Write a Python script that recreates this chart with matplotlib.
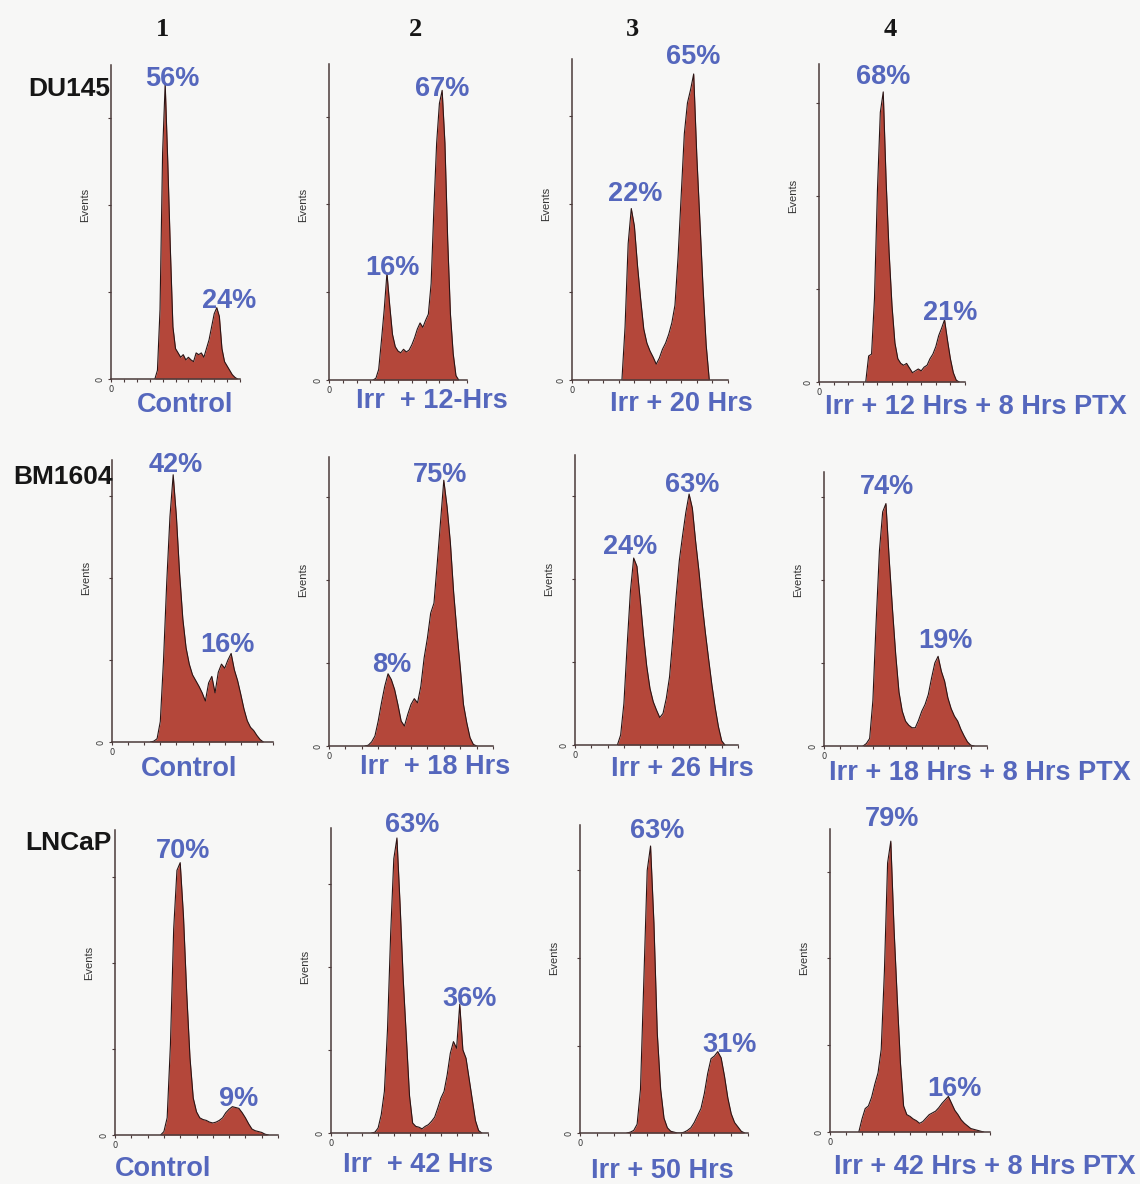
import numpy as np
import matplotlib
matplotlib.use("Agg")
import matplotlib.pyplot as plt

W, H = 1140, 1184

# DNA histograms: counts every 2 channels (0-100 scale),
# first value is at channel *_start.  One unit = one y tick interval.
du145_ctrl_start = 34
du145_ctrl = [0, 0.1, 0.8, 2.6, 3.4, 2.5, 1.5, 0.6, 0.35, 0.3, 0.25, 0.28, 0.22, 0.25, 0.22, 0.2,
              0.3, 0.28, 0.3, 0.25, 0.35, 0.45, 0.6, 0.75, 0.82, 0.72, 0.35, 0.2, 0.15, 0.1, 0.05, 0.02, 0]
du145_12h_start = 32
du145_12h = [0, 0.02, 0.12, 0.45, 0.8, 1.22, 0.85, 0.52, 0.38, 0.33, 0.31, 0.35, 0.32, 0.34, 0.4, 0.48,
             0.58, 0.65, 0.6, 0.68, 0.75, 1.1, 1.95, 2.7, 3.15, 3.3, 2.7, 1.6, 0.75, 0.3, 0.05, 0]
du145_20h_start = 32
du145_20h = [0, 0.6, 1.55, 1.95, 1.75, 1.3, 0.92, 0.58, 0.42, 0.33, 0.26, 0.18, 0.25, 0.35, 0.42, 0.52,
             0.65, 0.85, 1.4, 2.1, 2.8, 3.15, 3.3, 3.48, 2.55, 1.8, 1.05, 0.4, 0]
du145_ptx_start = 32
du145_ptx = [0, 0.28, 0.3, 0.9, 2.05, 2.9, 3.12, 2.15, 1.4, 0.82, 0.42, 0.25, 0.2, 0.18, 0.2, 0.15,
             0.1, 0.12, 0.14, 0.12, 0.16, 0.18, 0.25, 0.3, 0.38, 0.5, 0.58, 0.67, 0.45, 0.25, 0.1, 0.02, 0]

bm_ctrl_start = 24
bm_ctrl = [0, 0.01, 0.04, 0.25, 1.0, 1.95, 2.75, 3.26, 2.75, 2.05, 1.5, 1.15, 0.95, 0.82, 0.75, 0.68,
           0.6, 0.5, 0.72, 0.8, 0.6, 0.85, 0.95, 0.9, 1.0, 1.08, 0.88, 0.75, 0.58, 0.4, 0.26, 0.18,
           0.14, 0.08, 0.03, 0]
bm_18h_start = 22
bm_18h = [0, 0.01, 0.05, 0.12, 0.3, 0.52, 0.72, 0.87, 0.8, 0.68, 0.5, 0.3, 0.24, 0.38, 0.5, 0.57,
          0.52, 0.72, 1.06, 1.3, 1.6, 1.72, 2.2, 2.7, 3.2, 2.88, 2.45, 1.85, 1.38, 0.95, 0.5, 0.28,
          0.1, 0.02, 0]
bm_26h_start = 26
bm_26h = [0, 0.12, 0.5, 1.2, 1.85, 2.25, 2.15, 1.75, 1.32, 0.95, 0.68, 0.52, 0.42, 0.33, 0.38, 0.56,
          0.82, 1.28, 1.78, 2.22, 2.52, 2.8, 3.02, 2.85, 2.45, 2.1, 1.7, 1.35, 1.03, 0.72, 0.45, 0.22,
          0.05, 0]
bm_ptx_start = 24
bm_ptx = [0, 0.03, 0.09, 0.55, 1.5, 2.35, 2.82, 2.92, 2.25, 1.65, 1.1, 0.65, 0.42, 0.3, 0.25, 0.22,
          0.22, 0.31, 0.42, 0.5, 0.62, 0.82, 1.0, 1.08, 0.9, 0.78, 0.58, 0.45, 0.36, 0.3, 0.2, 0.12,
          0.05, 0.01, 0]

ln_ctrl_start = 28
ln_ctrl = [0, 0.04, 0.2, 1.05, 2.4, 3.08, 3.17, 2.55, 1.65, 0.9, 0.43, 0.27, 0.2, 0.18, 0.17, 0.15,
           0.14, 0.15, 0.17, 0.2, 0.26, 0.3, 0.33, 0.32, 0.31, 0.26, 0.2, 0.13, 0.07, 0.05, 0.04, 0.03,
           0.01, 0]
ln_42h_start = 26
ln_42h = [0, 0.01, 0.06, 0.22, 0.5, 1.25, 2.4, 3.3, 3.55, 2.75, 1.85, 1.15, 0.45, 0.12, 0.08, 0.07,
          0.05, 0.08, 0.1, 0.14, 0.19, 0.3, 0.42, 0.5, 0.7, 0.96, 1.1, 1.02, 1.55, 1.0, 0.9, 0.65,
          0.4, 0.15, 0.03, 0]
ln_50h_start = 28
ln_50h = [0, 0.01, 0.03, 0.1, 0.5, 1.75, 3.0, 3.28, 2.4, 1.14, 0.5, 0.17, 0.06, 0.02, 0.01, 0,
          0, 0.01, 0.03, 0.06, 0.12, 0.2, 0.28, 0.45, 0.68, 0.85, 0.88, 0.93, 0.86, 0.65, 0.4, 0.22,
          0.12, 0.07, 0.02, 0]
ln_ptx_start = 18
ln_ptx = [0, 0.15, 0.27, 0.3, 0.4, 0.55, 0.68, 0.95, 1.85, 3.1, 3.35, 2.35, 1.55, 0.8, 0.3, 0.2,
          0.18, 0.15, 0.13, 0.1, 0.12, 0.16, 0.2, 0.22, 0.24, 0.28, 0.33, 0.37, 0.41, 0.33, 0.25, 0.2,
          0.14, 0.1, 0.07, 0.04, 0.03, 0.02, 0.01, 0]

cell_lines = ["DU145", "BM1604", "LNCaP"]
col_numbers = ["1", "2", "3", "4"]
conditions = [["Control", "Irr  + 12-Hrs", "Irr + 20 Hrs", "Irr + 12 Hrs + 8 Hrs PTX"],
              ["Control", "Irr  + 18 Hrs", "Irr + 26 Hrs", "Irr + 18 Hrs + 8 Hrs PTX"],
              ["Control", "Irr  + 42 Hrs", "Irr + 50 Hrs", "Irr + 42 Hrs + 8 Hrs PTX"]]
g1_pct = [["56%", "16%", "22%", "68%"],
          ["42%", "8%", "24%", "74%"],
          ["70%", "63%", "63%", "79%"]]
g2_pct = [["24%", "67%", "65%", "21%"],
          ["16%", "75%", "63%", "19%"],
          ["9%", "36%", "31%", "16%"]]

hists = [[(du145_ctrl_start, du145_ctrl), (du145_12h_start, du145_12h),
          (du145_20h_start, du145_20h), (du145_ptx_start, du145_ptx)],
         [(bm_ctrl_start, bm_ctrl), (bm_18h_start, bm_18h),
          (bm_26h_start, bm_26h), (bm_ptx_start, bm_ptx)],
         [(ln_ctrl_start, ln_ctrl), (ln_42h_start, ln_42h),
          (ln_50h_start, ln_50h), (ln_ptx_start, ln_ptx)]]

# layout (pixels): axes box left, top, right, bottom and y range in tick units
boxes = [[(111, 65, 240, 379), (329, 64, 467, 380), (572, 59, 728, 380), (819, 64, 965, 382)],
         [(112, 460, 273, 742), (329, 457, 493, 746), (575, 455, 738, 745), (824, 472, 987, 746)],
         [(115, 830, 278, 1135), (331, 828, 488, 1133), (580, 825, 748, 1133), (830, 829, 990, 1132)]]
ymaxs = [[3.61, 3.6, 3.65, 3.42], [3.44, 3.48, 3.49, 3.3], [3.55, 3.67, 3.52, 3.49]]
g1_xy = [[(172, 76), (392, 266), (635, 192), (883, 75)],
         [(176, 463), (392, 662), (630, 545), (887, 484)],
         [(183, 849), (412, 822), (657, 829), (892, 817)]]
g2_xy = [[(229, 299), (442, 86), (693, 55), (950, 311)],
         [(227, 642), (440, 472), (692, 482), (945, 639)],
         [(239, 1097), (470, 996), (730, 1042), (954, 1086)]]
cond_xy = [[(185, 402), (432, 399), (681, 401), (976, 404)],
           [(189, 767), (435, 764), (682, 767), (980, 770)],
           [(163, 1167), (418, 1162), (662, 1168), (985, 1165)]]
row_label_xy = [(110, 86), (113, 474), (112, 840)]
col_xy = [(162, 27), (415, 27), (632, 27), (890, 27)]

fill_color = "#b4473a"
edge_color = "#2b1414"
axis_color = "#4a3a3a"
blue = "#5567bd"
sans = ["Liberation Sans", "DejaVu Sans"]


def fx(x):
    return x / W


def fy(y):
    return 1 - y / H


fig = plt.figure(figsize=(W / 100, H / 100), dpi=100, facecolor="#f7f7f6")

for r in range(3):
    for c in range(4):
        left, top, right, bottom = boxes[r][c]
        ax = fig.add_axes([fx(left), fy(bottom), (right - left) / W, (bottom - top) / H])
        ax.set_facecolor("none")
        start, counts = hists[r][c]
        x = start + 2 * np.arange(len(counts))
        ax.fill_between(x, counts, 0, color=fill_color, lw=0)
        ax.plot(x, counts, color=edge_color, lw=0.8)
        ax.set_xlim(0, 100)
        ax.set_ylim(0, ymaxs[r][c])
        for s in ["top", "right"]:
            ax.spines[s].set_visible(False)
        for s in ["left", "bottom"]:
            ax.spines[s].set_color(axis_color)
            ax.spines[s].set_linewidth(1.1)
        ax.set_xticks(np.arange(0, 101, 10))
        ax.set_xticklabels(["0"] + [""] * 10)
        ax.set_yticks([0, 1, 2, 3])
        ax.set_yticklabels(["0", "", "", ""], rotation=90, va="center")
        ax.tick_params(axis="both", direction="out", length=2.5, width=0.8,
                       color=axis_color, labelsize=6, pad=2, labelcolor="#333333")
        ax.set_ylabel("Events", fontsize=8, color="#333333", family=sans)
        ax.yaxis.set_label_coords(-21 / (right - left), 2 / ymaxs[r][c])

        # percentages and condition labels (baseline = centre + half cap height)
        for txt, (px, py) in [(g1_pct[r][c], g1_xy[r][c]), (g2_pct[r][c], g2_xy[r][c]),
                              (conditions[r][c], cond_xy[r][c])]:
            fig.text(fx(px), fy(py + 9.5), txt, ha="center", va="baseline",
                     fontsize=19.5, fontweight="bold", color=blue, family=sans)

for name, (px, py) in zip(cell_lines, row_label_xy):
    fig.text(fx(px), fy(py + 9.5), name, ha="right", va="baseline",
             fontsize=19, fontweight="bold", color="#161616", family=sans)

for num, (px, py) in zip(col_numbers, col_xy):
    fig.text(fx(px), fy(py + 9), num, ha="center", va="baseline",
             fontsize=19, fontweight="bold", color="#161616",
             family=["Liberation Serif", "DejaVu Serif"])

fig.savefig("out.png", dpi=100, facecolor=fig.get_facecolor())
